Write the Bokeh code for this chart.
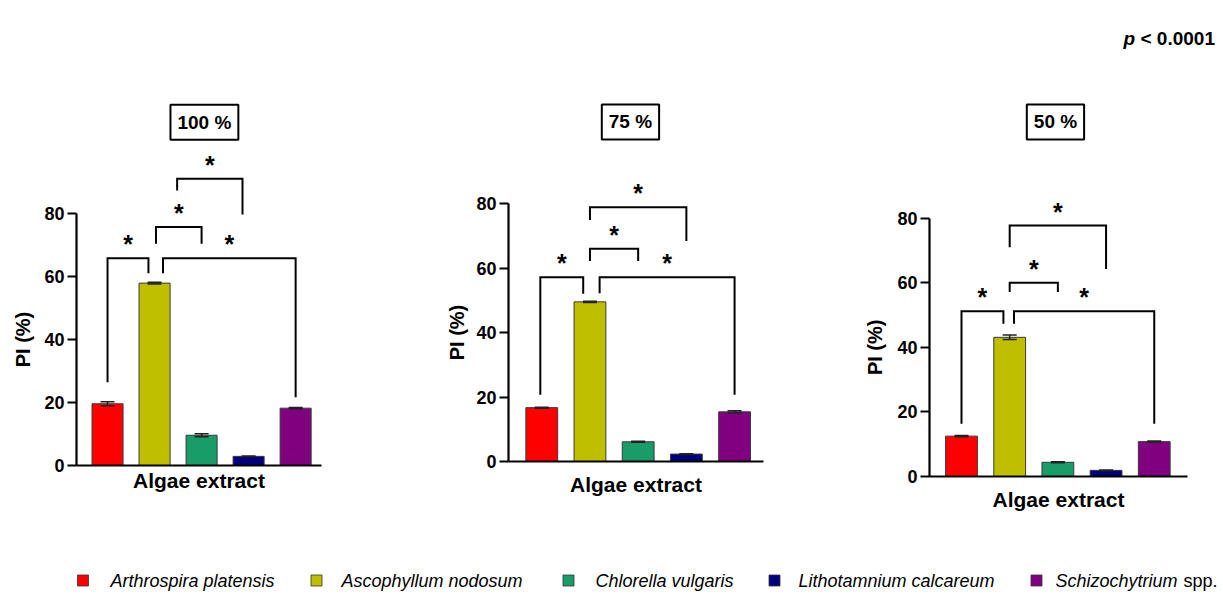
import math
from bokeh.plotting import figure
from bokeh.layouts import row, column
from bokeh.models import Range1d, FixedTicker, ColumnDataSource, Whisker, TeeHead, Label, Spacer
from bokeh.core.properties import value
from bokeh.embed import file_html
from bokeh.resources import INLINE

FONT = "Liberation Sans"

# ---------------- data ----------------
species = ["Arthrospira platensis", "Ascophyllum nodosum", "Chlorella vulgaris",
           "Lithotamnium calcareum", "Schizochytrium spp."]
colors = ["#ff0000", "#bfbf00", "#189c68", "#00007f", "#800080"]
concentrations = ["100 %", "75 %", "50 %"]

pi_100 = [19.6, 57.9, 9.6, 2.9, 18.2]
sd_100 = [0.6, 0.3, 0.5, 0.15, 0.2]
pi_75 = [16.7, 49.5, 6.1, 2.3, 15.4]
sd_75 = [0.15, 0.2, 0.15, 0.1, 0.3]
pi_50 = [12.5, 43.1, 4.4, 1.9, 10.8]
sd_50 = [0.2, 0.7, 0.15, 0.1, 0.2]

# significance brackets: (x_left, x_right, y_top, y_left_end, y_right_end)
brackets_100 = [(0.0, 0.87, 65.8, 26.4, 61.0), (1.03, 2.0, 75.7, 70.4, 70.4),
                (1.48, 2.87, 91.0, 87.3, 79.7), (1.18, 4.0, 65.8, 61.0, 21.7)]
brackets_75 = [(-0.03, 0.86, 57.1, 20.7, 52.0), (1.0, 2.0, 66.0, 62.2, 62.2),
               (1.0, 3.0, 78.8, 74.9, 68.4), (1.2, 4.0, 57.1, 52.2, 20.7)]
brackets_50 = [(0.0, 0.87, 51.2, 16.3, 47.3), (1.0, 2.0, 60.0, 57.1, 57.1),
               (1.0, 3.0, 77.7, 71.0, 64.3), (1.09, 4.0, 51.2, 47.3, 16.3)]
p_symbol = "p"
p_value_text = "< 0.0001"
y_title = "PI (%)"
x_title = "Algae extract"

values = [pi_100, pi_75, pi_50]
errors = [sd_100, sd_75, sd_50]
brackets = [brackets_100, brackets_75, brackets_50]

# ---------------- layout ----------------
W, H = 1223, 595
STRIP_H = 60          # top strip holding the p-value
FIG_H = 440
MBT, MBB = 0, 40
panels = [
    dict(left=0, lab_w=36, width=384, spacer=5, x0=-0.66, px_cat=47.0, xb=4.55,
         scale=3.15, title=(2.06, 109.0), xstand=3, lab_x=22),
    dict(left=420, lab_w=50, width=380, spacer=1, x0=-0.69, px_cat=48.25, xb=4.60,
         scale=3.225, title=(1.84, 105.3), xstand=11, lab_x=456),
    dict(left=850, lab_w=40, width=333, spacer=16, x0=-0.664, px_cat=48.2, xb=4.69,
         scale=3.229, title=(1.95, 109.8), xstand=11, lab_x=874),
]


def base_fig(width, x_range, y_range, **kw):
    f = figure(width=width, height=kw.pop("height", FIG_H), output_backend="svg",
               toolbar_location=None, x_range=x_range, y_range=y_range,
               outline_line_color=None, background_fill_color="white",
               border_fill_color="white", **kw)
    f.xgrid.visible = False
    f.ygrid.visible = False
    return f


groups = []
for k, cfg in enumerate(panels):
    axis_left = cfg["left"] + cfg["lab_w"]
    frame_w = round((cfg["xb"] - cfg["x0"]) * cfg["px_cat"])
    mbl = 0
    # main figure: the y-axis sits at the reference's axis position
    ref_axis_x = [76, 508, 929][k]
    mbl = ref_axis_x - axis_left
    mbr = cfg["width"] - mbl - frame_w
    frame_h = FIG_H - MBT - MBB
    yr = Range1d(0, frame_h / cfg["scale"])
    p = base_fig(cfg["width"], Range1d(cfg["x0"], cfg["xb"]), yr,
                 min_border_left=mbl, min_border_right=mbr,
                 min_border_top=MBT, min_border_bottom=MBB)

    xs = list(range(len(species)))
    src = ColumnDataSource(dict(x=xs, top=values[k], color=colors,
                                upper=[v + e for v, e in zip(values[k], errors[k])],
                                lower=[v - e for v, e in zip(values[k], errors[k])]))
    p.vbar(x="x", top="top", width=0.66, bottom=0, source=src, fill_color="color",
           line_color="#3a3a3a", line_width=1)
    p.add_layout(Whisker(source=src, base="x", upper="upper", lower="lower",
                         line_color="#222222", line_width=1.5, level="overlay",
                         upper_head=TeeHead(size=14, line_color="#222222", line_width=1.5),
                         lower_head=TeeHead(size=14, line_color="#222222", line_width=1.5)))

    bxs, bys, sx, sy = [], [], [], []
    for (xl, xr, yt, yle, yre) in brackets[k]:
        bxs.append([xl, xl, xr, xr])
        bys.append([yle, yt, yt, yre])
        sx.append((xl + xr) / 2)
        sy.append(yt)
    p.multi_line(xs=bxs, ys=bys, line_color="black", line_width=2, line_join="miter")
    p.text(x=sx, y=sy, text=["*"] * len(sx), text_font=value(FONT),
           text_font_size="25px", text_font_style="bold", text_align="center",
           text_baseline="middle", y_offset=-14, text_color="black")

    tx, ty = cfg["title"]
    p.add_layout(Label(x=tx, y=ty, text=concentrations[k], text_align="center",
                       text_baseline="middle", text_font=FONT, text_font_size="19px",
                       text_font_style="bold", text_color="black",
                       border_line_color="black", border_line_width=2,
                       background_fill_color="white", padding=7))

    # axes
    p.yaxis.ticker = FixedTicker(ticks=[0, 20, 40, 60, 80])
    p.yaxis.bounds = (0, 80)
    p.xaxis.ticker = FixedTicker(ticks=[])
    p.xaxis.axis_label = x_title
    for ax in (p.xaxis[0], p.yaxis[0]):
        ax.axis_line_width = 2.2
        ax.axis_line_color = "black"
        ax.major_tick_line_width = 2
        ax.major_tick_line_color = "black"
        ax.minor_tick_out = 0
        ax.minor_tick_in = 0
        ax.major_tick_in = 0
        ax.major_label_text_font = FONT
        ax.major_label_text_font_style = "bold"
        ax.major_label_text_color = "black"
        ax.axis_label_text_font = FONT
        ax.axis_label_text_font_style = "bold"
        ax.axis_label_text_color = "black"
    p.yaxis.major_tick_out = 9
    p.yaxis.major_label_standoff = 3
    p.yaxis.major_label_text_font_size = "18px"
    p.xaxis.major_tick_out = 0
    p.xaxis.major_label_standoff = 0
    p.xaxis.major_label_text_font_size = "1px"
    p.xaxis.axis_label_text_font_size = "21px"
    p.xaxis.axis_label_standoff = cfg["xstand"]

    # y-axis title in a narrow companion figure sharing the y range
    lab = base_fig(cfg["lab_w"], Range1d(cfg["left"], axis_left), yr,
                   min_border_left=0, min_border_right=0,
                   min_border_top=MBT, min_border_bottom=MBB,
                   x_axis_location=None, y_axis_location=None)
    lab.text(x=[cfg["lab_x"]], y=[40], text=[y_title], angle=math.pi / 2,
             text_font=value(FONT), text_font_size="20px", text_font_style="bold",
             text_align="center", text_baseline="middle", text_color="black")

    groups.append(column(Spacer(width=cfg["lab_w"] + cfg["width"], height=cfg["spacer"]),
                         row(lab, p, spacing=0), spacing=0))

# ---------------- top strip with p-value ----------------
strip = base_fig(W, Range1d(0, W), Range1d(STRIP_H, 0), height=STRIP_H,
                 min_border=0, min_border_left=0, min_border_right=0,
                 min_border_top=0, min_border_bottom=0,
                 x_axis_location=None, y_axis_location=None)
strip.text(x=[1123], y=[38], text=[p_symbol], text_font=value(FONT),
           text_font_size="19px", text_font_style="bold italic", text_align="left",
           text_baseline="middle", text_color="black")
strip.text(x=[1140], y=[38], text=[p_value_text], text_font=value(FONT),
           text_font_size="19px", text_font_style="bold", text_align="left",
           text_baseline="middle", text_color="black")

# ---------------- legend ----------------
TOP = 516
leg = base_fig(W, Range1d(0, W), Range1d(H, TOP), height=H - TOP,
               min_border=0, min_border_left=0, min_border_right=0,
               min_border_top=0, min_border_bottom=0,
               x_axis_location=None, y_axis_location=None)
sq_x = [82.5, 316, 568, 774, 1036]
tx_x = [110, 341, 595, 798, 1055]
LY = 580
leg.scatter(x=sq_x, y=[LY] * 5, marker="square", size=11, fill_color=colors,
            line_color="#333333", line_width=0.8)
ital, ital_x, plain, plain_x = [], [], [], []
for name, x in zip(species, tx_x):
    if name.endswith(" spp."):
        ital.append(name[:-5])
        ital_x.append(x)
        plain.append("spp.")
        plain_x.append(x + 128)
    else:
        ital.append(name)
        ital_x.append(x)
leg.text(x=ital_x, y=[LY] * len(ital), text=ital, text_font=value(FONT),
         text_font_size="18px", text_font_style="italic", text_align="left",
         text_baseline="middle", text_color="black")
leg.text(x=plain_x, y=[LY] * len(plain), text=plain, text_font=value(FONT),
         text_font_size="18px", text_font_style="normal", text_align="left",
         text_baseline="middle", text_color="black")

layout = column(strip, row(*groups, spacing=0), leg, spacing=0)
open("out.html", "w").write(file_html(layout, INLINE))
